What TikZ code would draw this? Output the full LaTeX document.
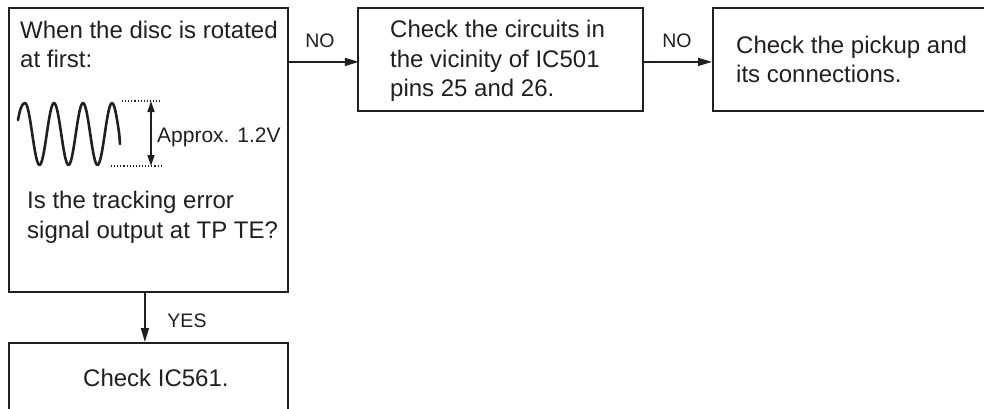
\documentclass[tikz,border=0pt]{standalone}
\usepackage{fontspec}
\setmainfont{Liberation Sans}
\usetikzlibrary{arrows.meta}
\definecolor{ink}{HTML}{231F20}
\tikzset{
  boxx/.style={draw=ink, line width=1.8pt, rectangle, inner sep=0pt, anchor=north west},
  txt/.style={anchor=base west, inner sep=0pt, text=ink, font=\fontsize{24}{29}\selectfont},
  lbl/.style={anchor=base, inner sep=0pt, text=ink, font=\fontsize{19.5}{23}\selectfont},
  arr/.style={draw=ink, line width=1.6pt, -{Triangle[length=14pt,width=8pt]}},
}
\begin{document}
\begin{tikzpicture}[x=1pt,y=-1pt]
\clip (0,0) rectangle (984,408);
\fill[white] (0,0) rectangle (984,408);
% boxes
\node[boxx, minimum width=279pt, minimum height=284pt] (b1) at (8,7) {};
\node[boxx, minimum width=285pt, minimum height=103pt] (b2) at (357,7) {};
\node[boxx, minimum width=300pt, minimum height=103pt] (b3) at (712,7) {};
\node[boxx, minimum width=279pt, minimum height=100pt] (b4) at (8,342) {};
% texts box1
\node[txt] (t1a) at (20,38) {When the disc is rotated};
\node[txt] (t1b) at (20,67) {at first:};
\node[txt] (t1c) at (27,208) {Is the tracking error};
\node[txt] (t1d) at (27,238) {signal output at TP TE?};
\node[txt, font=\fontsize{21}{25}\selectfont] (ap) at (157,142) {Approx. 1.2V};
% wave
\draw[ink, line width=2.6pt, line cap=round, line join=round]
  (18,120) .. controls (20,109) and (22,103) .. (25,103)
  cos (32.25,134) sin (39.5,165) cos (46.75,134) sin (54,103)
  cos (61.25,134) sin (68.5,165) cos (75.75,134) sin (83,103)
  cos (90.25,134) sin (97.5,165) cos (104.75,134) sin (112,103)
  cos (119.25,134) -- (120,144);
\coordinate (dt1) at (122,101);
\coordinate (dt2) at (162,101);
\coordinate (db1) at (111,166);
\coordinate (db2) at (162,166);
\draw[ink, line width=1.1pt, dotted] (dt1) -- (dt2);
\draw[ink, line width=1.1pt, dotted] (db1) -- (db2);
\coordinate (va) at (151,101);
\coordinate (vb) at (151,166);
\draw[ink, line width=1.4pt, {Triangle[length=11pt,width=7pt]}-{Triangle[length=11pt,width=7pt]}] (va) -- (vb);
% texts box2
\node[txt] (t2a) at (390,37) {Check the circuits in};
\node[txt] (t2b) at (390,67) {the vicinity of IC501};
\node[txt] (t2c) at (390,96) {pins 25 and 26.};
% texts box3
\node[txt] (t3a) at (736,53) {Check the pickup and};
\node[txt] (t3b) at (736,82) {its connections.};
% box4
\node[txt] (t4) at (83,386) {Check IC561.};
% connectors
\draw[arr] (b1.east |- b2.west) ++(0,2.5) -- ++(70,0) coordinate (a1e);
\draw[arr] (b2.east) ++(0,2.5) -- (b3.west |- a1e);
\draw[arr] (b1.south) ++(-3.5,0) coordinate (ds) -- (ds |- b4.north);
\node[lbl] (no1) at (320,47) {NO};
\node[lbl] (no2) at (677,47) {NO};
\node[lbl] (yes) at (187,327) {YES};
\end{tikzpicture}
\end{document}
